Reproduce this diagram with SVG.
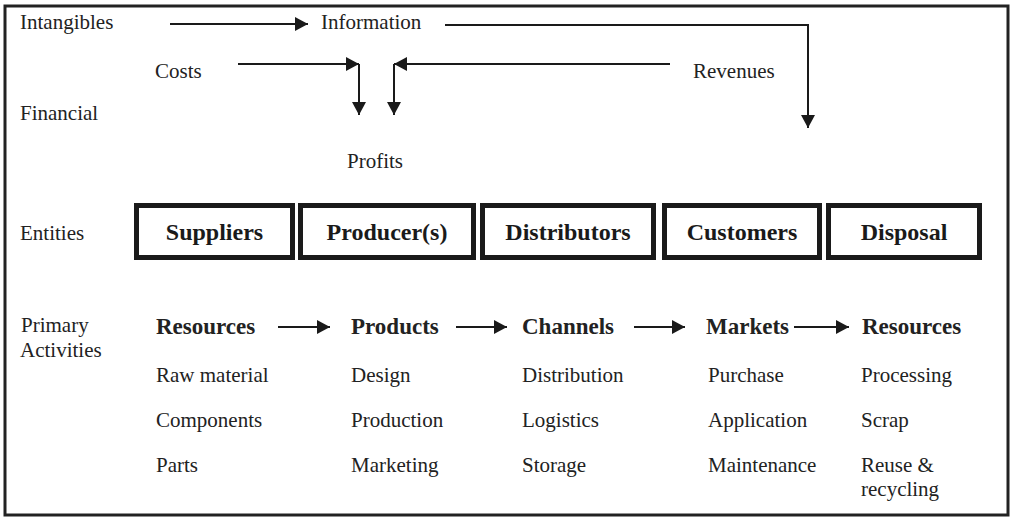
<svg xmlns="http://www.w3.org/2000/svg" width="1013" height="517" viewBox="0 0 1013 517">
<style>
  .t { font-family: "Liberation Serif", "Times New Roman", serif; font-size: 21px; fill: #222; }
  .b { font-family: "Liberation Serif", "Times New Roman", serif; font-size: 23px; font-weight: bold; fill: #222; }
  .eb { font-family: "Liberation Serif", "Times New Roman", serif; font-size: 24px; font-weight: bold; fill: #1a1a1a; text-anchor: middle; }
  .box { fill: #fff; stroke: #1a1a1a; stroke-width: 5; }
  .c { fill: none; stroke: #1a1a1a; stroke-width: 2; marker-end: url(#ah); }
</style>
<defs>
  <marker id="ah" markerUnits="userSpaceOnUse" markerWidth="14" markerHeight="14" viewBox="0 0 14 14" refX="13" refY="7" orient="auto">
    <path d="M0,0 L13,7 L0,14 z" fill="#1a1a1a"/>
  </marker>
</defs>
<rect x="0" y="0" width="1013" height="517" fill="#fff"/>
<rect x="5" y="6" width="1003" height="509" fill="none" stroke="#222" stroke-width="3"/>

<g id="row-labels">
  <text class="t" x="20" y="29">Intangibles</text>
  <text class="t" x="20" y="120">Financial</text>
  <text class="t" x="20" y="240">Entities</text>
  <text class="t" x="21" y="332">Primary</text>
  <text class="t" x="20" y="357">Activities</text>
</g>

<g id="financial">
  <text id="information" class="t" x="321" y="29">Information</text>
  <text id="costs" class="t" x="155" y="78">Costs</text>
  <text id="revenues" class="t" x="693" y="78">Revenues</text>
  <text id="profits" class="t" x="347" y="168">Profits</text>
</g>

<g id="suppliers"><rect class="box" x="136.5" y="205.5" width="156" height="52"/><text class="eb" x="214.5" y="240">Suppliers</text></g>
<g id="producers"><rect class="box" x="300.5" y="205.5" width="173" height="52"/><text class="eb" x="387" y="240">Producer(s)</text></g>
<g id="distributors"><rect class="box" x="482.5" y="205.5" width="171" height="52"/><text class="eb" x="568" y="240">Distributors</text></g>
<g id="customers"><rect class="box" x="664.5" y="205.5" width="155" height="52"/><text class="eb" x="742" y="240">Customers</text></g>
<g id="disposal"><rect class="box" x="828.5" y="205.5" width="151" height="52"/><text class="eb" x="904" y="240">Disposal</text></g>

<g id="col-resources">
  <text class="b" x="156" y="334">Resources</text>
  <text class="t" x="156" y="382">Raw material</text>
  <text class="t" x="156" y="427">Components</text>
  <text class="t" x="156" y="472">Parts</text>
</g>
<g id="col-products">
  <text class="b" x="351" y="334">Products</text>
  <text class="t" x="351" y="382">Design</text>
  <text class="t" x="351" y="427">Production</text>
  <text class="t" x="351" y="472">Marketing</text>
</g>
<g id="col-channels">
  <text class="b" x="522" y="334">Channels</text>
  <text class="t" x="522" y="382">Distribution</text>
  <text class="t" x="522" y="427">Logistics</text>
  <text class="t" x="522" y="472">Storage</text>
</g>
<g id="col-markets">
  <text class="b" x="706" y="334">Markets</text>
  <text class="t" x="708" y="382">Purchase</text>
  <text class="t" x="708" y="427">Application</text>
  <text class="t" x="708" y="472">Maintenance</text>
</g>
<g id="col-resources2">
  <text class="b" x="862" y="334">Resources</text>
  <text class="t" x="861" y="382">Processing</text>
  <text class="t" x="861" y="427">Scrap</text>
  <text class="t" x="861" y="472">Reuse &amp;</text>
  <text class="t" x="861" y="496">recycling</text>
</g>

<g id="connectors">
  <path class="c" d="M170,24 H308"/>
  <path class="c" d="M445,25 H808 V128"/>
  <path class="c" d="M238,64 H359"/>
  <path class="c" d="M359,64 V115"/>
  <path class="c" d="M670,64 H394"/>
  <path class="c" d="M394,64 V115"/>
  <path class="c" d="M278,327 H330"/>
  <path class="c" d="M456,327 H507"/>
  <path class="c" d="M634,327 H685"/>
  <path class="c" d="M794,327 H849"/>
</g>
</svg>
